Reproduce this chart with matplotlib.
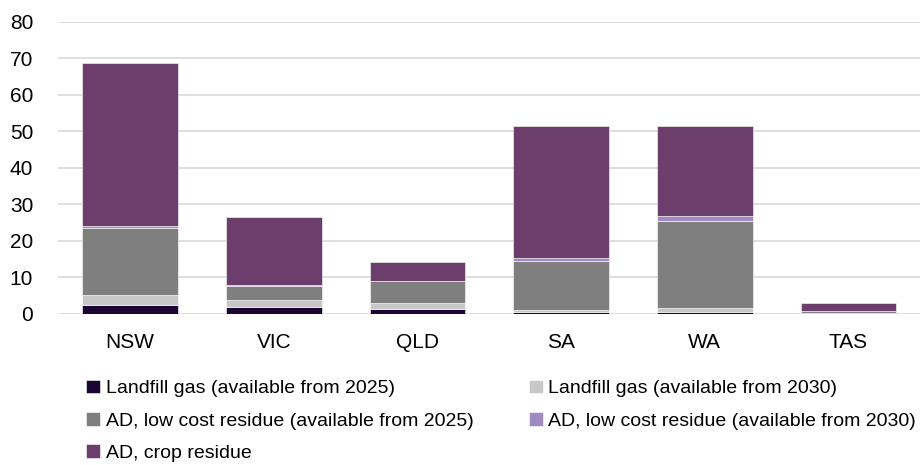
import numpy as np
import matplotlib
matplotlib.use('Agg')
import matplotlib.pyplot as plt

plt.rcParams['font.family'] = ['Liberation Sans', 'DejaVu Sans']

# Datos
states = ['NSW', 'VIC', 'QLD', 'SA', 'WA', 'TAS']
landfill_2025 = [2.5, 1.9, 1.4, 0.4, 0.6, 0.05]
landfill_2030 = [2.7, 2.0, 1.6, 0.6, 0.9, 0.1]
ad_low_2025 = [18.4, 3.8, 6.0, 13.6, 24.0, 0.6]
ad_low_2030 = [0.6, 0.1, 0.1, 0.6, 1.3, 0.0]
ad_crop = [44.6, 18.8, 5.2, 36.3, 24.6, 2.25]

series = [
    ('Landfill gas (available from 2025)', landfill_2025, '#1a0533'),
    ('Landfill gas (available from 2030)', landfill_2030, '#c8c8c8'),
    ('AD, low cost residue (available from 2025)', ad_low_2025, '#7f7f7f'),
    ('AD, low cost residue (available from 2030)', ad_low_2030, '#a08ac2'),
    ('AD, crop residue', ad_crop, '#6b3e6b'),
]

fig = plt.figure(figsize=(9.24, 4.65), dpi=100)
ax = fig.add_axes([0.063, 0.325, 0.933, 0.628])

x = np.arange(len(states))
bottom = np.zeros(len(states))
handles = []
for label, vals, color in series:
    b = ax.bar(x, vals, 0.665, bottom=bottom, color=color, label=label,
               edgecolor='white', linewidth=0.4, zorder=3)
    handles.append(b)
    bottom += np.array(vals)

ax.set_ylim(0, 80)
ax.set_xlim(-0.5, len(states) - 0.5)
ax.set_yticks(range(0, 81, 10))
ax.set_xticks(x)
ax.set_xticklabels(states)
ax.tick_params(axis='both', labelsize=15, length=0, colors='black')
ax.tick_params(axis='x', pad=14)
ax.tick_params(axis='y', pad=18)
ax.grid(axis='y', color='#d9d9d9', linewidth=1.2, zorder=0)
for s in ax.spines.values():
    s.set_visible(False)

order = [0, 2, 4, 1, 3]
fig.legend([handles[i] for i in order], [series[i][0] for i in order],
           loc='upper left', bbox_to_anchor=(0.085, 0.2), ncol=2,
           frameon=False, fontsize=14, handlelength=0.7, handleheight=0.7,
           handletextpad=0.3, columnspacing=2.85, labelspacing=0.75,
           borderaxespad=0)

fig.savefig('out.png', dpi=100)
